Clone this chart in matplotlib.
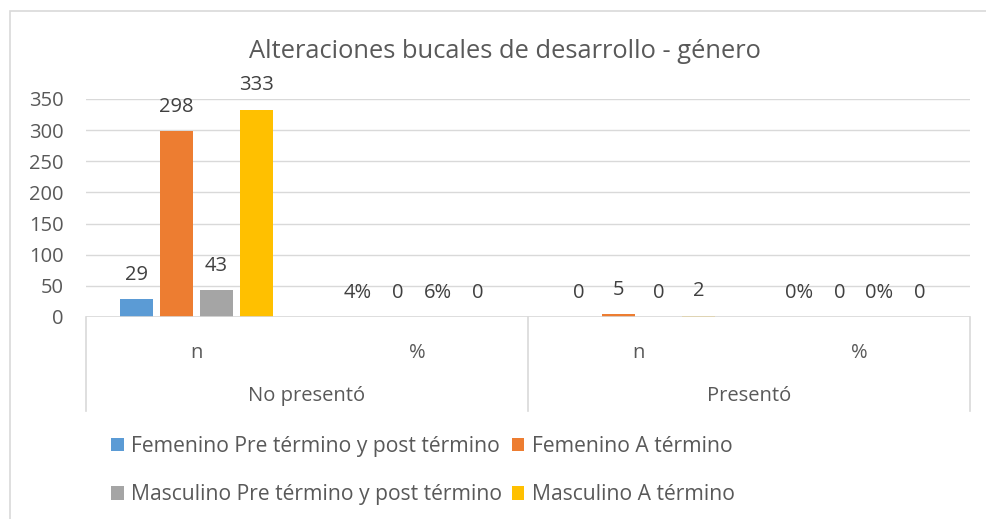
import numpy as np
import matplotlib.pyplot as plt
from matplotlib.patches import Rectangle, Patch

plt.rcParams['font.family'] = ['Open Sans', 'DejaVu Sans']

# datos
groups = ['No presentó', 'Presentó']
subcats = ['n', '%', 'n', '%']
series = ['Femenino Pre término y post término', 'Femenino A término',
          'Masculino Pre término y post término', 'Masculino A término']
colors = ['#5B9BD5', '#ED7D31', '#A5A5A5', '#FFC000']
values = [
    [29, 0.04, 0, 0],     # Femenino Pre/post
    [298, 0, 5, 0],       # Femenino A término
    [43, 0.06, 0, 0],     # Masculino Pre/post
    [333, 0, 2, 0],       # Masculino A término
]
labels = [
    ['29', '4%', '0', '0%'],
    ['298', '0', '5', '0'],
    ['43', '6%', '0', '0%'],
    ['333', '0', '2', '0'],
]
yticks = [0, 50, 100, 150, 200, 250, 300, 350]

W, H = 986, 519
fig = plt.figure(figsize=(W / 100, H / 100), dpi=100)
fig.patch.set_facecolor('white')

# borde del gráfico
fig.patches.append(Rectangle((10 / W, -0.1), 1.2, 1 - 11 / H + 0.1, transform=fig.transFigure,
                             fill=False, edgecolor='#D9D9D9', linewidth=1.2))

left, right, top, bottom = 86, 970, 99, 317
ax = fig.add_axes([left / W, 1 - bottom / H, (right - left) / W, (bottom - top) / H])

text_col = '#595959'
grid_col = '#D9D9D9'
fs = 14.5
x = np.arange(len(subcats))
bw = 0.145
step = 0.181
for i, (vals, lab) in enumerate(zip(values, labels)):
    off = (i - 1.5) * step
    ax.bar(x + off, vals, width=bw, color=colors[i], zorder=3)
    for xi, v, s in zip(x, vals, lab):
        ax.annotate(s, (xi + off, v), xytext=(0, 17.5), textcoords='offset points',
                    ha='center', va='center', fontsize=fs, color='#404040')

ax.set_xlim(-0.5, len(subcats) - 0.5)
ax.set_ylim(0, 350)
ax.set_yticks(yticks)
ax.set_yticklabels([str(t) for t in yticks], fontsize=fs, color=text_col)
ax.tick_params(axis='y', length=0, pad=16)
ax.tick_params(axis='x', length=0, labelbottom=False)
ax.grid(axis='y', color=grid_col, linewidth=1, zorder=0)
for sp in ax.spines.values():
    sp.set_visible(False)
ax.axhline(0, color=grid_col, linewidth=1.2, zorder=4)

# eje de categorías en dos niveles
tr = ax.get_xaxis_transform()
sep_bottom = -(411 - 317) / (bottom - top)
for xs in [-0.5, 1.5, 3.5]:
    ax.plot([xs, xs], [0, sep_bottom], transform=tr, color=grid_col, linewidth=1.2, clip_on=False)
for xi, s in zip(x, subcats):
    ax.text(xi, -(353 - 317) / (bottom - top), s, transform=tr, ha='center', va='center',
            fontsize=fs, color=text_col)
for gi, g in enumerate(groups):
    ax.text(gi * 2 + 0.5, -(396 - 317) / (bottom - top), g, transform=tr, ha='center', va='center',
            fontsize=fs, color=text_col)

fig.text(505 / W, 1 - 51 / H, 'Alteraciones bucales de desarrollo - género',
         ha='center', va='center', fontsize=18.4, color=text_col)

# leyenda: orden por filas
order = [0, 2, 1, 3]
handles = [Patch(facecolor=colors[k], edgecolor='none') for k in order]
fig.legend(handles, [series[k] for k in order], loc='upper left', bbox_to_anchor=(111 / W, 1 - 436 / H),
           ncol=2, frameon=False, fontsize=15.2, labelcolor=text_col, handlelength=0.6, handleheight=0.6,
           handletextpad=0.35, columnspacing=0.45, labelspacing=1.3, borderaxespad=0, borderpad=0)

fig.savefig('out.png', dpi=100, facecolor='white')
